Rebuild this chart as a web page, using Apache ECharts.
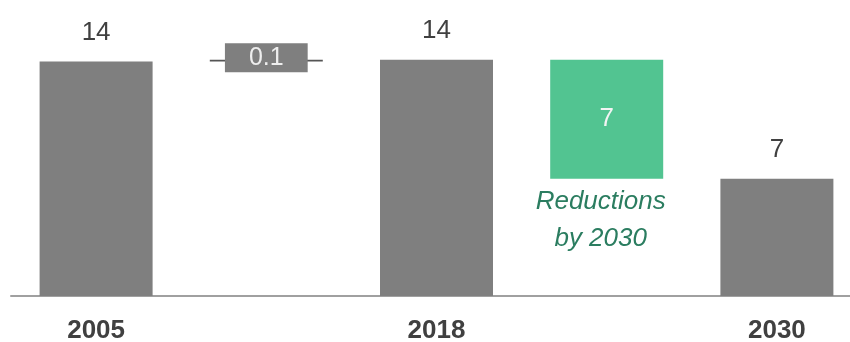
<!DOCTYPE html>
<html>
<head>
<meta charset="utf-8">
<script src="https://cdn.jsdelivr.net/npm/echarts@6/dist/echarts.min.js"></script>
<style>
  html, body { margin: 0; padding: 0; background: #fff; }
  #chart { width: 850px; height: 342px; }
</style>
</head>
<body>
<div id="chart"></div>
<script>
// Emissions waterfall: 2005 -> change -> 2018 -> reductions -> 2030
const categories = ['2005', '', '2018', '', '2030'];
const steps = [14.0, 0.1, 14.1, 7.1, 7.0];        // height of each visible bar
const offsets = [0, 14.0, 0, 7.0, 0];              // invisible base under floating bars
const valueLabels = ['14', '0.1', '14', '7', '7'];
const noteText = 'Reductions\nby 2030';

const GRAY = '#7f7f7f';
const GREEN = '#52c491';
const FONT = '"Liberation Sans", Arial, sans-serif';

const chart = echarts.init(document.getElementById('chart'), null, { renderer: 'canvas' });

const visibleData = steps.map((v, i) => {
  const item = { value: v, itemStyle: { color: GRAY } };
  if (i === 1) {
    // tiny increase drawn as a thin bar with a boxed label over it
    item.itemStyle = { color: '#555555', borderColor: '#555555', borderWidth: 1.5 };
    item.label = {
      show: true, position: 'inside', formatter: valueLabels[i],
      backgroundColor: GRAY, color: '#eeeeee', fontSize: 25,
      lineHeight: 27, padding: [1, 24, 1, 24], offset: [0, -3], fontFamily: FONT
    };
  } else if (i === 3) {
    item.itemStyle = { color: GREEN };
    item.label = {
      show: true, position: 'inside', formatter: valueLabels[i],
      color: '#f4f4f4', fontSize: 26, fontFamily: FONT
    };
  } else {
    item.label = {
      show: true, position: 'top', distance: 16, formatter: valueLabels[i],
      color: '#404040', fontSize: 26, fontFamily: FONT
    };
  }
  return item;
});

const baseData = offsets.map((v, i) => {
  const item = { value: v, itemStyle: { color: 'transparent' } };
  if (i === 3) {
    item.label = {
      show: true, position: 'insideTop', distance: 5, offset: [-6, 0],
      formatter: noteText, color: '#2b7d60', fontSize: 26, fontStyle: 'italic',
      lineHeight: 37, fontFamily: FONT
    };
  }
  return item;
});

chart.setOption({
  animation: false,
  grid: { left: 11, width: 851, top: 28, bottom: 46, outerBoundsMode: 'none' },
  xAxis: {
    type: 'category',
    data: categories,
    axisLine: { lineStyle: { color: '#a0a0a0', width: 2 } },
    axisTick: { show: false },
    axisLabel: {
      color: '#404040', fontSize: 26, fontWeight: 'bold',
      fontFamily: FONT, margin: 22
    }
  },
  yAxis: {
    type: 'value', min: 0, max: 16,
    show: false, splitLine: { show: false }
  },
  series: [
    {
      type: 'bar', stack: 'w', barWidth: 113,
      data: baseData, silent: true
    },
    {
      type: 'bar', stack: 'w', barWidth: 113,
      data: visibleData
    }
  ]
});
</script>
</body>
</html>
